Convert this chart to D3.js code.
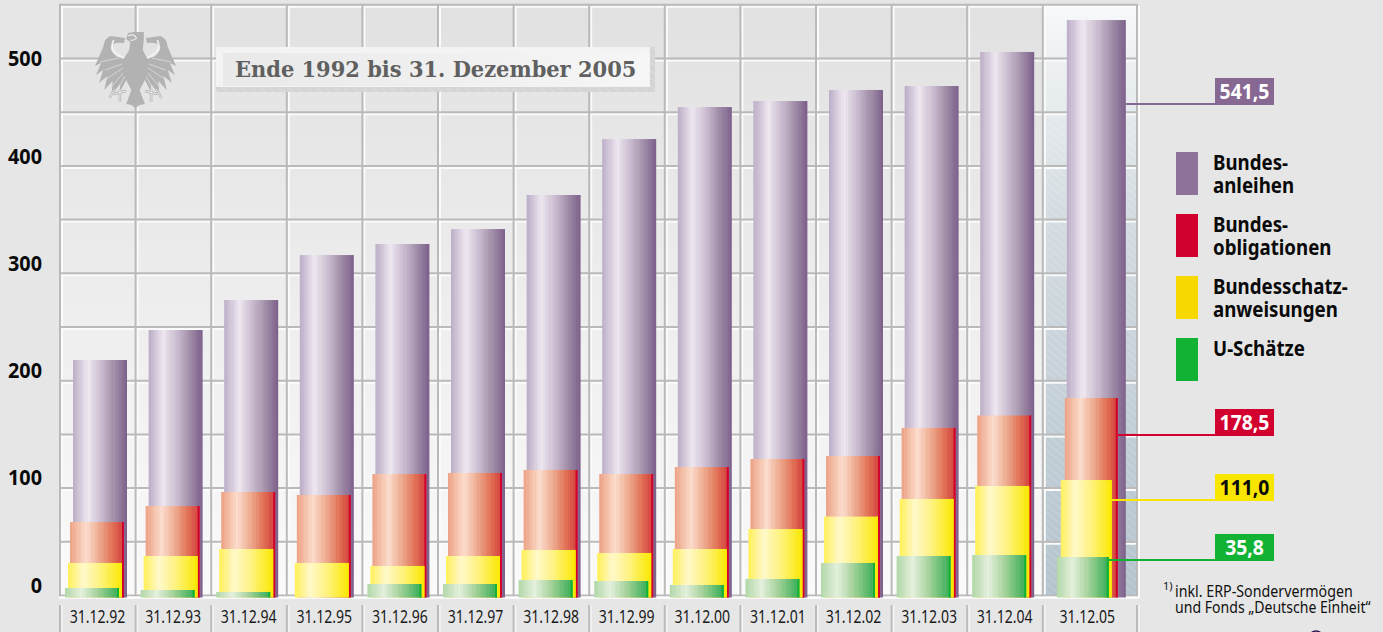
<!DOCTYPE html>
<html><head><meta charset="utf-8">
<script src="https://cdn.jsdelivr.net/npm/d3@7"></script>
<style>
html,body{margin:0;padding:0;background:#e6e6e6;overflow:hidden}
svg{display:block}
text{font-family:"Noto Sans",sans-serif}
</style></head><body>
<svg id="c" width="1383" height="632"></svg>
<script>
const categories=["31.12.92","31.12.93","31.12.94","31.12.95","31.12.96","31.12.97","31.12.98","31.12.99","31.12.00","31.12.01","31.12.02","31.12.03","31.12.04","31.12.05"];
const bundesanleihen=[219.3,247.2,275.1,317.0,327.3,341.2,372.9,425.0,454.8,460.4,470.7,474.4,506.1,535.8];
const bundesobligationen=[68.4,83.3,96.4,93.6,113.1,114.1,116.9,113.1,119.6,127.1,129.9,156.1,167.6,183.9];
const bundesschatzanweisungen=[30.3,36.8,43.3,30.3,27.5,36.8,42.4,39.6,43.3,61.9,73.5,89.9,102.0,107.5];
const uSchaetze=[7.0,5.1,3.3,0,10.7,10.7,14.4,13.5,9.8,15.4,30.3,36.8,37.7,35.8];
const axisTicks=[0,100,200,300,400,500];
const gridTicks=[50,100,150,200,250,300,350,400,450,500,550,0];
const legendLabels=[["Bundes-","anleihen"],["Bundes-","obligationen"],["Bundesschatz-","anweisungen"],["U-Schätze"]];
const calloutLabels=["541,5","178,5","111,0","35,8"];
const seriesColors=["#8f7299","#d2002f","#f7d800","#12b335"];

const svg=d3.select("#c"), defs=svg.append("defs");
const W=1383;
const y=d3.scaleLinear().domain([0,550]).range([595.5,4.8]);
const yLabel=d3.scaleLinear().domain([0,400,500]).range([585,156.5,58]);
const x=d3.scaleOrdinal(categories,categories.map((c,i)=>97+75.6*i+(i===13?7:0)));
const cell=i=>60+75.6*i, lastEdge=cell(13), rightEdge=1137, baseDrop=2;

function squeeze(sel,r){sel.each(function(){this.setAttribute("textLength",this.getComputedTextLength()*r);this.setAttribute("lengthAdjust","spacingAndGlyphs");});}
function linGrad(id,stops,vert){const g=defs.append("linearGradient").attr("id",id).attr("x1",0).attr("y1",0).attr("x2",vert?0:1).attr("y2",vert?1:0);
 stops.forEach(s=>g.append("stop").attr("offset",s[0]).attr("stop-color",s[1]));}
function banded(id,pos,cols,n){const sc=d3.scaleLinear().domain(pos).range(cols).interpolate(d3.interpolateRgb);const st=[];
 for(let i=0;i<n;i++){const c=sc((i+.5)/n);st.push([i/n,c],[(i+1)/n,c]);}linGrad(id,st,false);}

banded("gP",[0,.28,.36,.55,.75,1],["#bbadc6","#efe8f0","#e0d7e4","#c6b7cc","#a391ab","#7c5f8a"],26);
banded("gR",[0,.3,.55,.8,1],["#eda285","#fbdccc","#eda98d","#e06e55","#d23c3a"],22);
banded("gY",[0,.28,.6,1],["#fff056","#fff8cb","#fff27e","#fae800"],22);
banded("gG",[0,.3,.6,1],["#b2d7a8","#e4f0dd","#a5d29a","#35ae55"],22);
linGrad("gBg",[[0,"#e1e1e1"],[.45,"#ececec"],[1,"#fafafa"]],true);
linGrad("gLast",[[0,"#f6f8f9"],[.35,"#d4dce1"],[1,"#b4c3cd"]],true);
linGrad("gInner",[[0,"#e9e9e9"],[1,"#f6f6f6"]],false);
const p=defs.append("pattern").attr("id","hatch").attr("width",6).attr("height",6).attr("patternUnits","userSpaceOnUse").attr("patternTransform","rotate(40)");
p.append("line").attr("x1",0).attr("x2",6).attr("y1",2).attr("y2",2).attr("stroke","#fff").attr("stroke-opacity",.22);

// backgrounds
svg.append("rect").attr("width",W).attr("height",632).attr("fill","#e6e6e6");
svg.append("rect").attr("x",60).attr("y",5).attr("width",lastEdge-60).attr("height",y(0)-5).attr("fill","url(#gBg)");
svg.append("rect").attr("x",lastEdge).attr("y",5).attr("width",rightEdge-lastEdge).attr("height",y(0)-5).attr("fill","url(#gLast)");
svg.append("rect").attr("x",lastEdge).attr("y",5).attr("width",rightEdge-lastEdge).attr("height",y(0)-5).attr("fill","url(#hatch)");

// grid: grey line with a white edge
const grid=svg.append("g");
const rowY=gridTicks.map(v=>y(v));
grid.selectAll(".hw").data(rowY).join("line").attr("x1",61).attr("x2",rightEdge+2).attr("y1",d=>d+2).attr("y2",d=>d+2).attr("stroke","#fbfbfb").attr("stroke-width",2);
const colX=d3.range(0,14).map(cell).concat([rightEdge]);
grid.selectAll(".vw").data(colX).join("line").attr("x1",d=>d+2).attr("x2",d=>d+2).attr("y1",6).attr("y2",y(0)+2).attr("stroke","#fbfbfb").attr("stroke-width",2);
grid.selectAll(".hg").data(rowY).join("line").attr("x1",59).attr("x2",rightEdge+1).attr("y1",d=>d).attr("y2",d=>d).attr("stroke","#bababa").attr("stroke-width",2);
grid.selectAll(".vg").data(colX).join("line").attr("x1",d=>d).attr("x2",d=>d).attr("y1",4).attr("y2",y(0)+1).attr("stroke","#bababa").attr("stroke-width",2);
svg.append("line").attr("x1",59).attr("x2",rightEdge+2).attr("y1",y(0)+2).attr("y2",y(0)+2).attr("stroke","#fff").attr("stroke-width",2);

// eagle
const eagle=svg.append("g").attr("transform","translate(135.5,0) scale(1.04,1)");
const eg="#b2b2b2";
[1,-1].forEach(s=>{
 const h=eagle.append("g").attr("transform",`scale(${s},1)`);
 h.append("path").attr("fill",eg).attr("d","M-10,38 L-24,36 Q-30,38 -31,47 L-39,66 L-33,63 L-38,75 L-31,70 L-35,83 L-27,76 L-30,90 L-22,81 L-23,95 L-15,84 L-15,92 L-8,78 L-6,60 Q-21,59 -24,48 Q-24,42 -11,43 Z");
 h.append("path").attr("fill","none").attr("stroke","#f4f4f4").attr("stroke-width",1.6).attr("d","M-21,40 Q-27,53 -8,59");
 h.append("path").attr("fill","none").attr("stroke","#dedede").attr("stroke-width",.8).attr("d","M-13,64 L-29,70 M-12,68 L-28,79 M-12,73 L-24,88 M-10,76 L-17,89 M-16,58 L-34,62");
 h.append("path").attr("fill","none").attr("stroke",eg).attr("stroke-width",2.4).attr("d","M-9,91 L-21,94 M-15,89 L-15,102 M-20,89 L-25,98");
 h.append("path").attr("fill","none").attr("stroke","#f7f7f7").attr("stroke-width",.8).attr("d","M-9,91 L-21,94 M-15,89 L-15,102 M-20,89 L-25,98");
});
eagle.append("path").attr("fill",eg).attr("d","M-9,39 L-7,33 L-2,32 L8,32 L8,39 L7,50 L12,60 L10,78 L4,90 L9,104 L4,105 L0,108 L-4,105 L-9,104 L-4,90 L-10,78 L-12,60 L-6,50 L-5,42 Z");
eagle.append("path").attr("fill","none").attr("stroke","#f0f0f0").attr("stroke-width",1).attr("d","M-7,36 Q-2,33 1,38 Q-1,41 -5,40");

// bars drawn back to front
const series=[
 {vals:bundesanleihen,grad:"gP",off:-24,lastOff:-20,w:54,lastW:59,rim:0},
 {vals:bundesobligationen,grad:"gR",off:-27,lastOff:-22,w:54,lastW:53,rim:2,rimCol:seriesColors[1]},
 {vals:bundesschatzanweisungen,grad:"gY",off:-29,lastOff:-26,w:54,lastW:51,rim:1,rimCol:"#fae600"},
 {vals:uSchaetze,grad:"gG",off:-32,lastOff:-30,w:54,lastW:52,rim:2,rimCol:seriesColors[3]}
];
const bars=svg.append("g");
series.forEach(s=>{
 const rows=categories.map((c,i)=>({c,i,v:s.vals[i]})).filter(d=>d.v>0);
 const bx=d=>x(d.c)+(d.i===13?s.lastOff:s.off), bw=d=>d.i===13?s.lastW:s.w, by=d=>y(d.v), bh=d=>y(0)+baseDrop-y(d.v);
 bars.append("g").selectAll("rect").data(rows).join("rect").attr("x",bx).attr("y",by).attr("width",bw).attr("height",bh).attr("fill",`url(#${s.grad})`);
 if(s.rim) bars.append("g").selectAll("rect").data(rows).join("rect").attr("x",d=>bx(d)+bw(d)-s.rim).attr("y",by).attr("width",s.rim).attr("height",bh).attr("fill",s.rimCol);
});

// y axis labels
const yAxis=svg.append("g").attr("transform","translate(42,0)").call(d3.axisLeft(yLabel).tickValues(axisTicks).tickSize(0).tickPadding(0));
yAxis.select(".domain").remove();
yAxis.selectAll("text").attr("fill","#0a0a0a").style("font-family",'"Noto Sans",sans-serif').style("font-size","22px").style("font-weight",700).call(squeeze,.9);

// x axis labels with separators
svg.append("g").selectAll("line").data(colX).join("line").attr("x1",d=>d).attr("x2",d=>d).attr("y1",605).attr("y2",632).attr("stroke","#bcbcbc").attr("stroke-width",2);
svg.append("g").selectAll("line").data(colX).join("line").attr("x1",d=>d+2).attr("x2",d=>d+2).attr("y1",605).attr("y2",632).attr("stroke","#f4f4f4").attr("stroke-width",1.5);
const xAxis=svg.append("g").attr("transform","translate(0,605.5)").call(d3.axisBottom(x).tickSize(0).tickPadding(0));
xAxis.select(".domain").remove();
xAxis.selectAll("text").attr("fill","#1a1a1a").attr("dy","0.95em").style("font-family",'"Noto Sans",sans-serif').style("font-size","18px").call(squeeze,.78);

// title box
svg.append("rect").attr("x",216).attr("y",47).attr("width",439).attr("height",45).attr("fill","#d4d4d4");
svg.append("rect").attr("x",216).attr("y",47).attr("width",434).attr("height",40).attr("fill","#f3f3f3");
svg.append("rect").attr("x",216).attr("y",47).attr("width",439).attr("height",45).attr("fill","url(#hatch)");
svg.append("rect").attr("x",223).attr("y",53).attr("width",426).attr("height",33).attr("fill","url(#gInner)");
svg.append("text").attr("x",235).attr("y",77).attr("fill","#606060").style("font-family",'"DejaVu Serif",serif').style("font-weight",700).style("font-size","22px").text("Ende 1992 bis 31. Dezember 2005").call(squeeze,.953);

// callouts
const calloutTop=[78,409,474,534], calloutFrom=[1126,1118,1112,1109], calloutLineY=[104,435,500,560], calloutText=["#fff","#fff","#0a0a0a","#fff"], calloutFill=["#876893","#d2002f","#f9e600","#12b335"];
calloutLabels.forEach((t,i)=>{
 svg.append("line").attr("x1",calloutFrom[i]).attr("x2",1216).attr("y1",calloutLineY[i]).attr("y2",calloutLineY[i]).attr("stroke",calloutFill[i]).attr("stroke-width",2);
 svg.append("rect").attr("x",1215).attr("y",calloutTop[i]).attr("width",59).attr("height",27).attr("fill",calloutFill[i]);
 svg.append("text").attr("x",1244.5).attr("y",calloutTop[i]+21).attr("text-anchor","middle").attr("fill",calloutText[i]).style("font-weight",700).style("font-size","22px").text(t).call(squeeze,.88);
});

// legend
legendLabels.forEach((ls,i)=>{
 const top=152+62*i;
 svg.append("rect").attr("x",1176).attr("y",top).attr("width",22).attr("height",43).attr("fill",seriesColors[i]);
 ls.forEach((t,j)=>svg.append("text").attr("x",1213).attr("y",top+18+j*23).attr("fill","#0a0a0a").style("font-weight",700).style("font-size","21px").text(t).call(squeeze,.89));
});

// footnote
svg.append("text").attr("x",1163).attr("y",590).attr("fill","#111").style("font-size","11px").text("1)");
svg.append("text").attr("x",1175).attr("y",597).attr("fill","#111").style("font-size","16px").text("inkl. ERP-Sondervermögen").call(squeeze,.89);
svg.append("text").attr("x",1175).attr("y",613).attr("fill","#111").style("font-size","16px").text("und Fonds „Deutsche Einheit“").call(squeeze,.88);
svg.append("circle").attr("cx",1316).attr("cy",638).attr("r",7).attr("fill","none").attr("stroke","#2a1450").attr("stroke-width",1.6);
</script>
</body></html>
